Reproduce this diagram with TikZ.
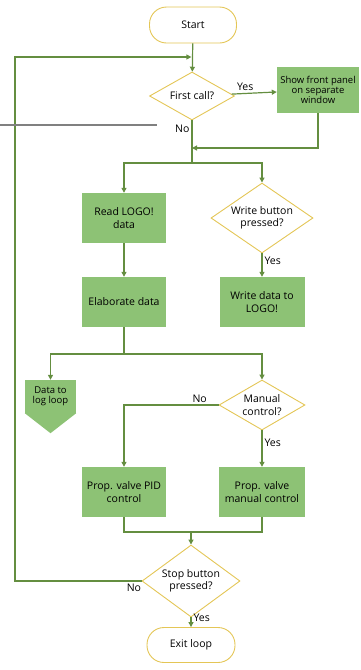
\documentclass[tikz,border=0pt]{standalone}
\usepackage{fontspec}
\setmainfont{Open Sans}
\usetikzlibrary{shapes.geometric,arrows.meta}

\definecolor{boxfill}{RGB}{141,194,117}
\definecolor{linegreen}{RGB}{100,142,64}
\definecolor{termline}{RGB}{228,198,86}

\newcommand{\flowfont}{\fontsize{10.5}{12.5}\selectfont}
\newcommand{\smallflow}{\fontsize{9.5}{10}\selectfont}

\tikzset{
  process/.style={rectangle, fill=boxfill, inner sep=1pt, align=center, font=\flowfont},
  decision/.style={diamond, draw=termline, fill=white, line width=0.9pt, inner sep=0pt, align=center, font=\flowfont},
  terminal/.style={rectangle, rounded corners=17pt, draw=termline, fill=white, line width=0.9pt, align=center, font=\flowfont},
  conn/.style={draw=linegreen, line width=1.2pt, -{Triangle[length=5pt,width=5pt]}},
  plain/.style={draw=linegreen, line width=1.2pt},
  lbl/.style={font=\flowfont, inner sep=2pt}
}

\begin{document}
\begin{tikzpicture}[x=1pt,y=-1pt]
  \useasboundingbox (0,0) rectangle (360,670);

  % nodes
  \node[terminal, minimum width=87, minimum height=36] (start) at (193,25) {Start};
  \node[decision, shape aspect=1.8, minimum width=85, minimum height=48] (first) at (192,96) {First call?};
  \node[process, minimum width=82, minimum height=46, font=\smallflow] (front) at (318,90) {Show front panel\\on separate\\window};
  \node[process, minimum width=84, minimum height=50] (read) at (124,218) {Read LOGO!\\data};
  \node[decision, shape aspect=1.45, minimum width=102, minimum height=70] (wbtn) at (262,218) {Write button\\pressed?};
  \node[process, minimum width=84, minimum height=50] (elab) at (124,302) {Elaborate data};
  \node[process, minimum width=85, minimum height=50] (wdata) at (262,302) {Write data to\\LOGO!};
  \node[process, minimum width=51, minimum height=33, font=\smallflow] (log) at (50.5,396.5) {Data to\\log loop};
  \fill[boxfill] (log.south west) -- (log.south east) -- ([yshift=-20pt]log.south) -- cycle;
  \node[decision, shape aspect=1.7, minimum width=86, minimum height=50] (manual) at (262,405) {Manual\\control?};
  \node[process, minimum width=84, minimum height=50] (pid) at (124,492) {Prop. valve PID\\control};
  \node[process, minimum width=86, minimum height=50] (pman) at (262,492) {Prop. valve\\manual control};
  \node[decision, shape aspect=1.4, minimum width=98, minimum height=72] (stop) at (191,581) {Stop button\\pressed?};
  \node[terminal, minimum width=88, minimum height=35] (exitn) at (191,645) {Exit loop};

  \coordinate (loopin) at (191.4,57);
  \coordinate (join1) at (192,148);
  \coordinate (split1) at (192,163);
  \coordinate (split2) at (124,354);
  \coordinate (merge) at (191,532);

  % connectors
  \draw[conn] (start) -- (first);
  \draw[conn] (first) -- (front) node[lbl, pos=0.3, above] {Yes};
  \draw[conn] (front.south) |- (join1);
  \draw[plain] (first) -- (split1) node[lbl, pos=0.2, left] {No};
  \draw[conn] (split1) -| (read);
  \draw[conn] (split1) -| (wbtn);
  \draw[conn] (read) -- (elab);
  \draw[conn] (wbtn) -- (wdata) node[lbl, pos=0.3, right] {Yes};
  \draw[plain] (elab) -- (split2);
  \draw[conn] (split2) -| (log);
  \draw[conn] (split2) -| (manual);
  \draw[conn] (manual.west) -| (pid) node[lbl, pos=0.1, above] {No};
  \draw[conn] (manual) -- (pman) node[lbl, pos=0.35, right] {Yes};
  \draw[plain] (pid) |- (merge);
  \draw[plain] (pman) |- (merge);
  \draw[conn] (merge) -- (stop);
  \draw[conn] (stop.west) -| (15,57) node[lbl, pos=0.03, below] {No} -- (loopin);
  \draw[conn] (stop) -- (exitn) node[lbl, pos=0, right] {Yes};

  \draw[gray, line width=1.3pt] (0,125) -- (157,125);
\end{tikzpicture}
\end{document}
